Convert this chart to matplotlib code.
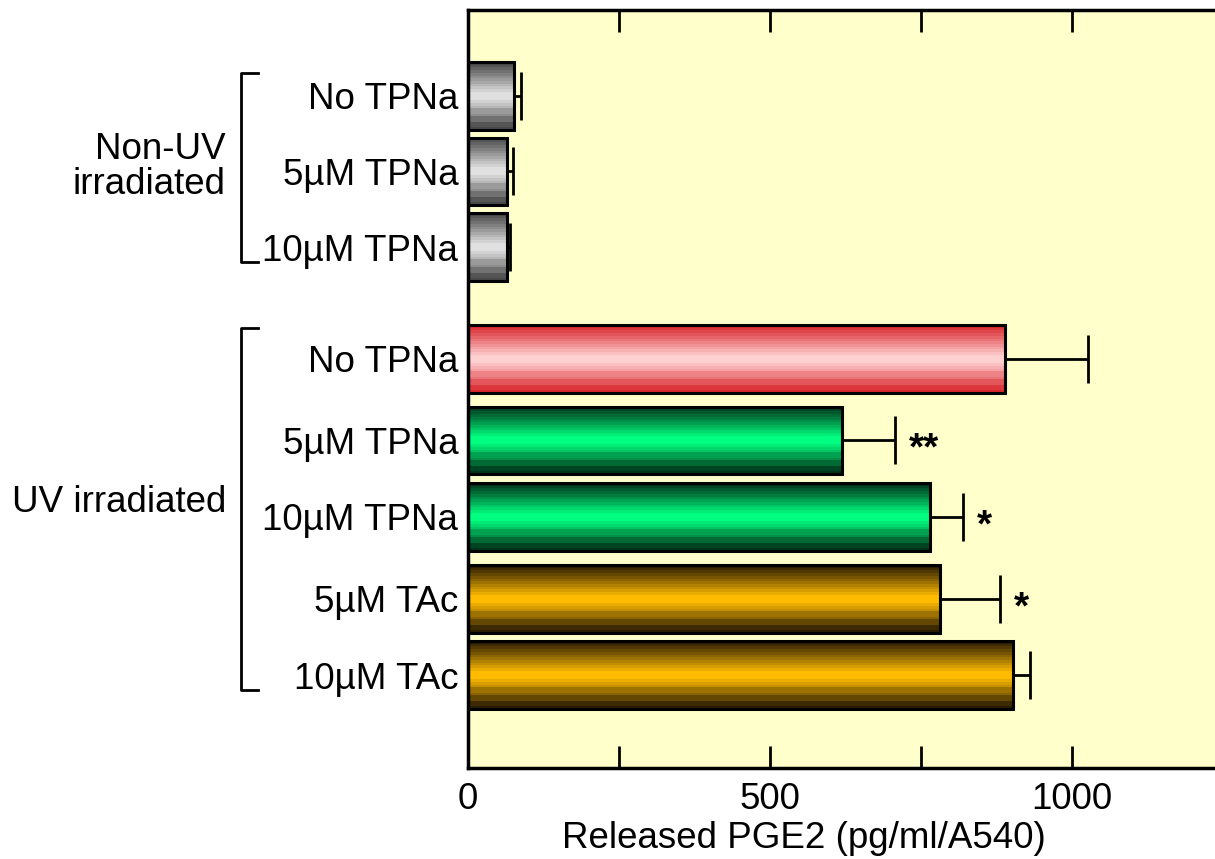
import numpy as np
import matplotlib.pyplot as plt
from matplotlib.colors import LinearSegmentedColormap
from matplotlib.transforms import blended_transform_factory

plt.rcParams['font.family'] = ['Liberation Sans', 'DejaVu Sans']
plt.rcParams['font.size'] = 26.5

# data
labels = ['No TPNa', '5µM TPNa', '10µM TPNa',
          'No TPNa', '5µM TPNa', '10µM TPNa', '5µM TAc', '10µM TAc']
values = [76, 64, 64, 890, 620, 765, 782, 902]
errors = [11, 11, 6, 136, 87, 55, 99, 28]
stars = ['', '', '', '', '**', '*', '*', '']
groups = ['Non-UV\nirradiated', 'UV irradiated']

# layout (y positions in row units, top to bottom)
pos = [1.1, 2.07, 3.04, 4.47, 5.52, 6.5, 7.55, 8.53]
bar_h = 0.87
edge_cols = ['#484848'] * 3 + ['#d8282e'] + ['#00331a'] * 2 + ['#2a1c00'] * 2
mid_cols = ['#e0e0e0'] * 3 + ['#ffd0d0'] + ['#00ff80'] * 2 + ['#ffbb00'] * 2

fig = plt.figure(figsize=(12.15, 8.59), dpi=100)
ax = fig.add_axes([468 / 1215, 1 - 768 / 859, 1 - 468 / 1215, (768 - 10) / 859])
ax.set_facecolor('#ffffcc')

bars = ax.barh(pos, values, height=bar_h, color='none', edgecolor='black',
               linewidth=2.2, zorder=3)

# banded gradient fill inside each bar
t = np.linspace(-1, 1, 25)
grad = (1 - np.abs(t)).reshape(-1, 1)
for b, c0, c1 in zip(bars, edge_cols, mid_cols):
    cmap = LinearSegmentedColormap.from_list('g', [c0, c1], N=12)
    x0, y0 = b.get_x(), b.get_y()
    im = ax.imshow(grad, extent=[x0, x0 + b.get_width(), y0, y0 + b.get_height()],
                   aspect='auto', cmap=cmap, interpolation='nearest', zorder=2)
    im.set_clip_path(b)

ax.errorbar(values, pos, xerr=[np.zeros(len(values)), errors], fmt='none',
            ecolor='black', elinewidth=2, capsize=17, capthick=2, zorder=4)

for v, e, p, s in zip(values, errors, pos, stars):
    if s:
        ax.annotate(s, (v + e, p), xytext=(10, -14), textcoords='offset points',
                    ha='left', va='baseline', fontsize=28, fontweight='bold')

ax.set_xlim(0, 1237)
ax.set_ylim(9.72, 0)
ax.set_aspect('auto')
ax.set_yticks(pos)
ax.set_yticklabels(labels)
ax.tick_params(axis='y', length=0, pad=7)
ax.set_xticks(np.arange(0, 1001, 250))
ax.set_xticklabels(['0', '', '500', '', '1000'])
ax.tick_params(axis='x', direction='in', length=16, width=2, top=True, pad=10)
ax.spines['right'].set_visible(False)
for sp in ['left', 'top', 'bottom']:
    ax.spines[sp].set_linewidth(2.5)
ax.set_xlabel('Released PGE2 (pg/ml/A540)')
ax.xaxis.set_label_coords((804 - 468) / 747, -0.07)

# group brackets and labels
tr = blended_transform_factory(ax.transAxes, ax.transData)
for (y0, y1), (ly, name) in zip([(0.81, 3.23), (4.08, 8.72)],
                                [(2.01, groups[0]), (6.32, groups[1])]):
    ax.plot([-0.281, -0.304, -0.304, -0.281], [y0, y0, y1, y1], color='black',
            lw=2, transform=tr, clip_on=False)
    ax.text(-0.324, ly, name, transform=tr, ha='right', va='center',
            linespacing=1.0, multialignment='right')

fig.savefig('out.png', dpi=100)
